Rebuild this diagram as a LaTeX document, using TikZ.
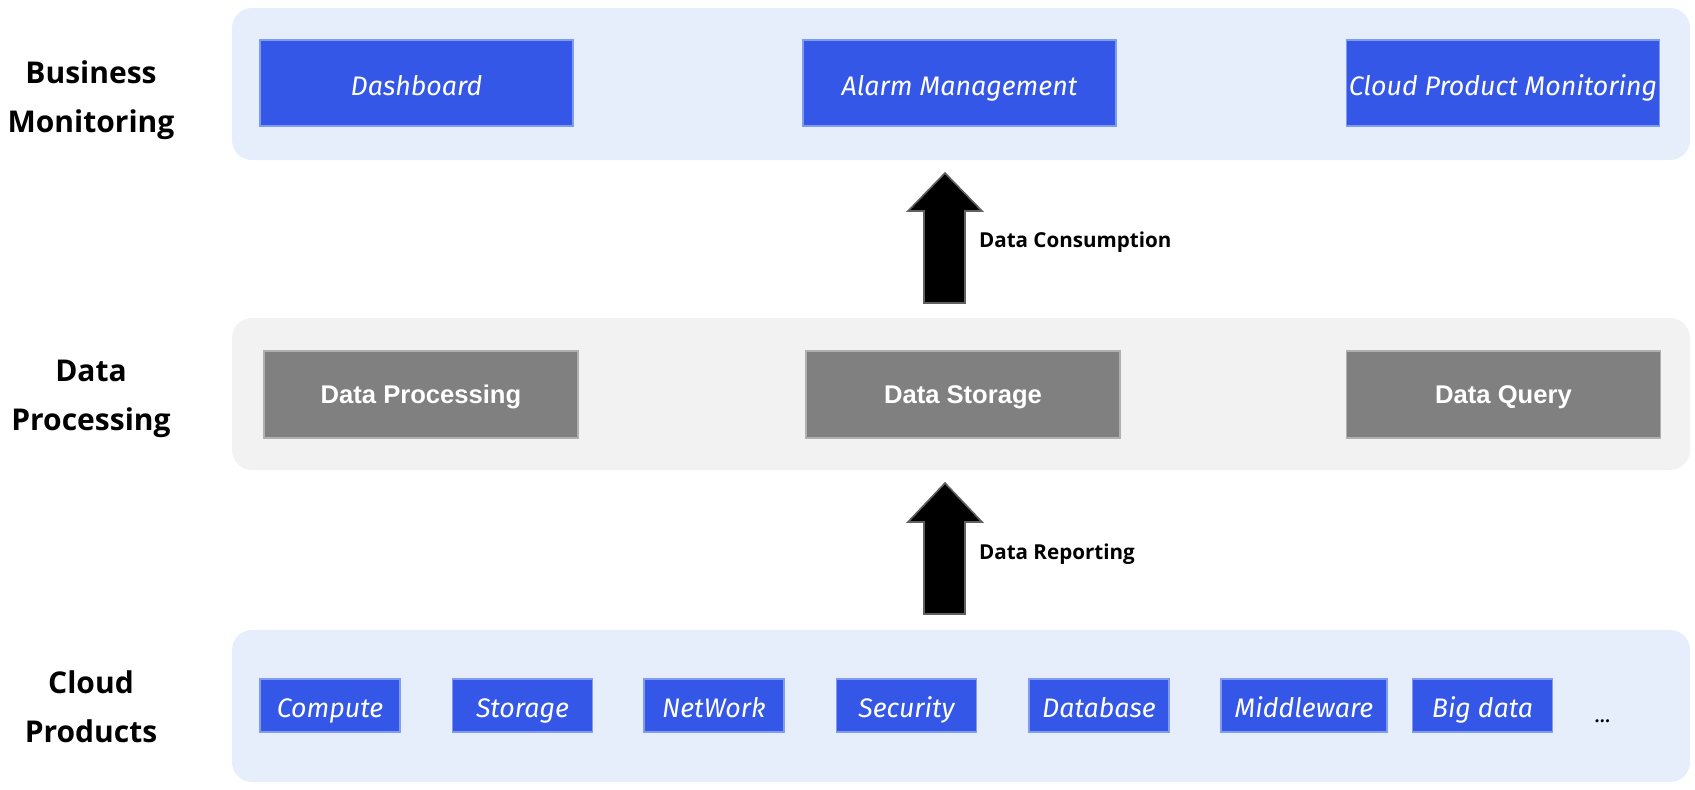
\documentclass[tikz,border=0pt]{standalone}
\usepackage{fontspec}
\setmainfont{Open Sans}
\newfontfamily\boxfont{Fira Sans}
\newfontfamily\arialfont{Liberation Sans}
\usetikzlibrary{positioning}
\definecolor{panelblue}{HTML}{E6EDFB}
\definecolor{panelgray}{HTML}{F2F2F2}
\definecolor{boxblue}{HTML}{3457E8}
\definecolor{boxblueline}{HTML}{7F9CF0}
\definecolor{boxgray}{HTML}{808080}
\definecolor{boxgrayline}{HTML}{B0B0B0}
\definecolor{arrowline}{HTML}{606060}
\tikzset{
  panel/.style={rounded corners=10pt, draw=none},
  bluebox/.style={fill=boxblue, draw=boxblueline, line width=0.6pt, text=white,
    font=\boxfont\itshape\fontsize{13.4}{15}\selectfont, inner sep=0pt,
    text height=12pt, text depth=0pt, minimum height=43pt},
  smallbox/.style={bluebox, minimum width=70pt, minimum height=26.5pt},
  graybox/.style={fill=boxgray, draw=boxgrayline, line width=0.6pt, text=white,
    font=\arialfont\bfseries\fontsize{12.8}{14}\selectfont, inner sep=0pt,
    text height=8.6pt, text depth=0pt,
    minimum width=157pt, minimum height=43.5pt},
  layerlabel/.style={font=\bfseries\fontsize{15}{24.5}\selectfont, align=center},
  flowlabel/.style={font=\bfseries\fontsize{10.3}{12}\selectfont, anchor=west},
  blockarrow/.style={fill=black, draw=arrowline, line width=0.8pt, line join=miter}
}
\begin{document}
\begin{tikzpicture}[x=0.5pt,y=-0.5pt]
\useasboundingbox (0,0) rectangle (1695,789);
% panels
\fill[panel, fill=panelblue] (232,8) rectangle (1690,160);
\fill[panel, fill=panelgray] (232,318) rectangle (1690,470);
\fill[panel, fill=panelblue] (232,630) rectangle (1690,782);
% layer labels
\node[layerlabel] (lbus) at (91,100) {Business\\Monitoring};
\node[layerlabel] (ldata) at (91,399) {Data\\Processing};
\node[layerlabel] (lcloud) at (91,707) {Cloud\\Products};
% top boxes
\node[bluebox, minimum width=156.5pt] (dash) at (416.5,83) {Dashboard};
\node[bluebox, minimum width=156.5pt] (alarm) at (959.5,83) {Alarm Management};
\node[bluebox, minimum width=156.5pt] (cpm) at (1503,83) {Cloud Product Monitoring};
% middle boxes
\node[graybox] (dproc) at (421,394.5) {Data Processing};
\node[graybox] (dstor) at (963,394.5) {Data Storage};
\node[graybox] (dquery) at (1503.5,394.5) {Data Query};
% bottom boxes
\node[smallbox] (compute) at (330,705.5) {Compute};
\node[smallbox] (storage) at (522.5,705.5) {Storage};
\node[smallbox] (network) at (714,705.5) {NetWork};
\node[smallbox] (security) at (906.5,705.5) {Security};
\node[smallbox] (database) at (1099,705.5) {Database};
\node[smallbox, minimum width=83pt] (middleware) at (1304,705.5) {Middleware};
\node[smallbox] (bigdata) at (1482.5,705.5) {Big data};
\node[font=\boxfont\itshape\fontsize{11}{12}\selectfont] (more) at (1603,721) {...};
% block arrows
\draw[blockarrow] (924,303) -- (924,211) -- (908,211) -- (945,173) -- (982,211) -- (965,211) -- (965,303) -- cycle;
\draw[blockarrow] (924,614) -- (924,522) -- (908,522) -- (945,483) -- (982,522) -- (965,522) -- (965,614) -- cycle;
\node[flowlabel] (cons) at (972,242) {Data Consumption};
\node[flowlabel] (rep) at (972,554) {Data Reporting};
\end{tikzpicture}
\end{document}
